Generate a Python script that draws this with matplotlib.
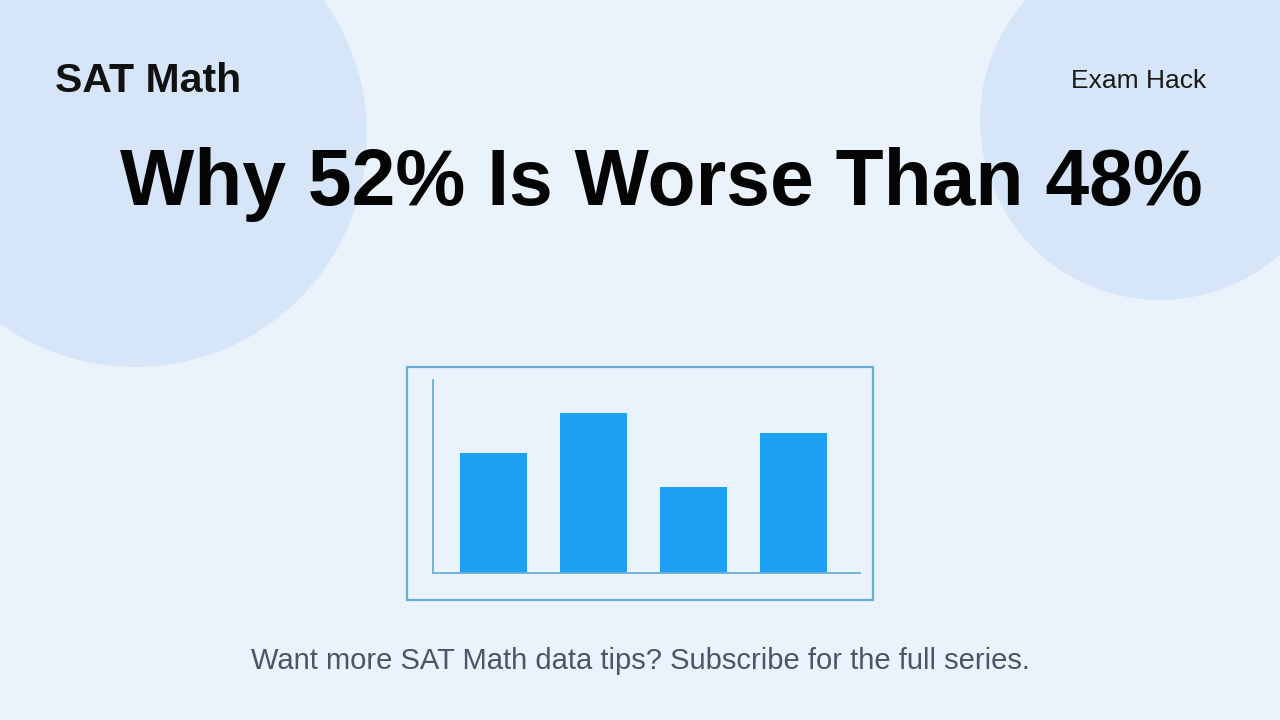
import matplotlib.pyplot as plt
from matplotlib.patches import Circle, Rectangle

plt.rcParams['font.family'] = ['Liberation Sans', 'DejaVu Sans']

# bar heights (arbitrary units, no labels in the picture)
categories = ["A", "B", "C", "D"]
values = [60, 80, 43, 70]

bg_color = "#EAF2FC"
circle_color = "#D6E6F8"
bar_color = "#1DA1F2"
frame_color = "#6AAED6"

W, H = 1280, 720
fig = plt.figure(figsize=(12.8, 7.2), dpi=100)
fig.patch.set_facecolor(bg_color)

# background layer in pixel coords (y down)
bg = fig.add_axes([0, 0, 1, 1])
bg.set_xlim(0, W)
bg.set_ylim(H, 0)
bg.axis("off")
bg.add_patch(Circle((135, 135), 232, color=circle_color, lw=0, zorder=0))
bg.add_patch(Circle((1160, 120), 180, color=circle_color, lw=0, zorder=0))
bg.add_patch(Rectangle((407, 367), 466, 233, fill=False, ec=frame_color, lw=1.6, zorder=1))

bg.text(55, 92, "SAT Math", fontsize=29.5, fontweight="bold", color="#111111",
        ha="left", va="baseline")
bg.text(1206, 88, "Exam Hack", fontsize=19, color="#1a1a1a", ha="right", va="baseline")
bg.text(661, 205, "Why 52% Is Worse Than 48%", fontsize=56.6, fontweight="bold",
        color="#050505", ha="center", va="baseline")
bg.text(640, 669, "Want more SAT Math data tips? Subscribe for the full series.",
        fontsize=21, color="#4B5563", ha="center", va="baseline")

# small bar chart
x0, x1, y0, y1 = 433, 860, 380, 573
ax = fig.add_axes([x0 / W, 1 - y1 / H, (x1 - x0) / W, (y1 - y0) / H])
ax.set_facecolor("none")
pos = range(len(values))
ax.bar(pos, values, width=0.67, color=bar_color)
ax.set_xlim(-0.605, 3.665)
ax.set_ylim(0, 96.5)
ax.set_xticks([])
ax.set_yticks([])
for s in ["top", "right"]:
    ax.spines[s].set_visible(False)
for s in ["left", "bottom"]:
    ax.spines[s].set_color(frame_color)
    ax.spines[s].set_linewidth(1.3)

fig.savefig("out.png", dpi=100, facecolor=bg_color)
